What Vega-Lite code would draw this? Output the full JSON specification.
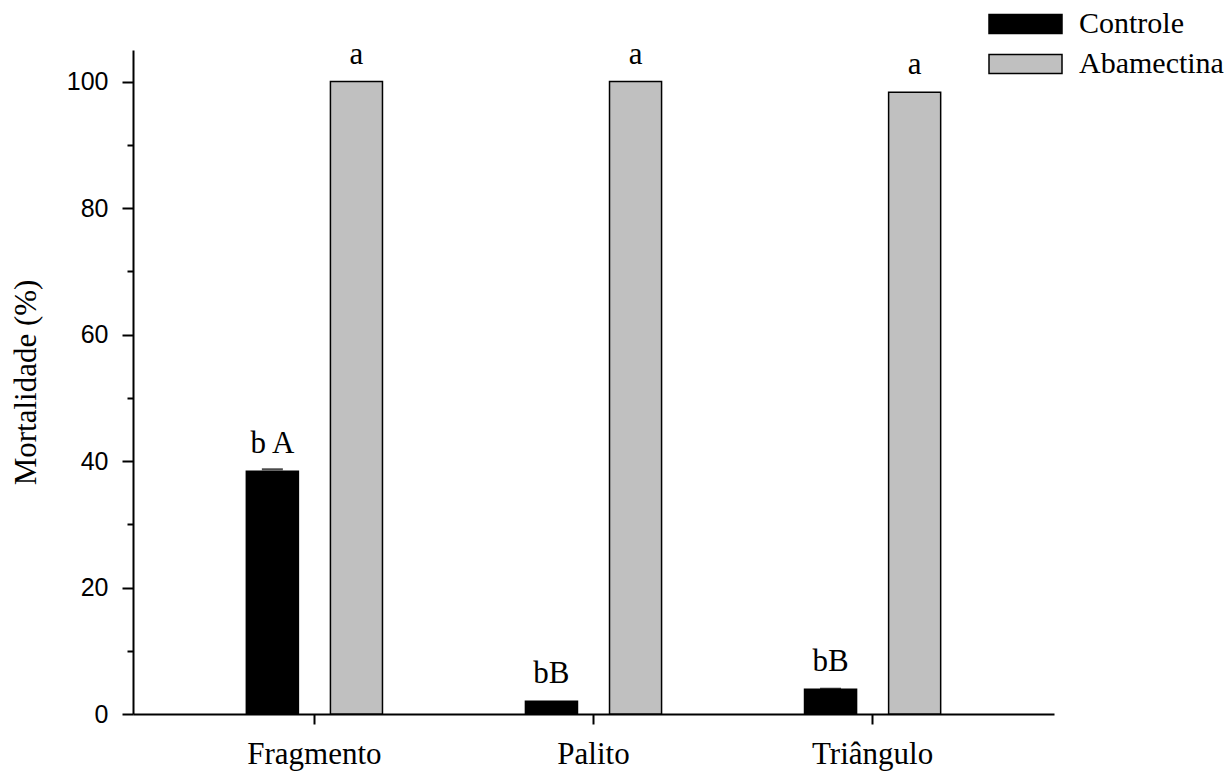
{
  "$schema": "https://vega.github.io/schema/vega-lite/v6.json",
  "width": 921,
  "height": 664,
  "autosize": {"type": "none"},
  "padding": {"left": 133, "top": 50, "right": 177, "bottom": 59},
  "background": "white",
  "config": {"view": {"stroke": null}, "font": "Liberation Serif"},
  "data": {
    "values": [
      {"Substrato": "Fragmento", "Tratamento": "Controle", "Mortalidade": 38.4, "Superior": 38.7, "Letra": "b A"},
      {"Substrato": "Fragmento", "Tratamento": "Abamectina", "Mortalidade": 100, "Superior": null, "Letra": "a"},
      {"Substrato": "Palito", "Tratamento": "Controle", "Mortalidade": 2.0, "Superior": null, "Letra": "bB"},
      {"Substrato": "Palito", "Tratamento": "Abamectina", "Mortalidade": 100, "Superior": null, "Letra": "a"},
      {"Substrato": "Triângulo", "Tratamento": "Controle", "Mortalidade": 3.9, "Superior": 4.0, "Letra": "bB"},
      {"Substrato": "Triângulo", "Tratamento": "Abamectina", "Mortalidade": 98.3, "Superior": null, "Letra": "a"}
    ]
  },
  "encoding": {
    "x": {
      "field": "Substrato",
      "type": "nominal",
      "sort": ["Fragmento", "Palito", "Triângulo"],
      "scale": {"paddingInner": 0, "paddingOuter": 0.15},
      "axis": {
        "title": null,
        "labelAngle": 0,
        "labelFont": "Liberation Serif",
        "labelFontSize": 31,
        "labelColor": "black",
        "tickSize": 10,
        "tickWidth": 2,
        "tickColor": "black",
        "domainColor": "black",
        "domainWidth": 2,
        "labelPadding": 15
      }
    },
    "xOffset": {
      "field": "Tratamento",
      "sort": ["Controle", "Abamectina"],
      "scale": {"paddingInner": 0.381, "paddingOuter": 0.85}
    }
  },
  "layer": [
    {
      "mark": {"type": "bar", "stroke": "black", "strokeWidth": 1.5},
      "encoding": {
        "y": {
          "field": "Mortalidade",
          "type": "quantitative",
          "scale": {"domain": [0, 105], "nice": false},
          "axis": {
            "title": "Mortalidade (%)",
            "values": [0, 5, 10, 15, 20, 25, 30, 35, 40, 45, 50, 55, 60, 65, 70, 75, 80, 85, 90, 95, 100, 105],
            "labelExpr": "datum.value % 20 === 0 ? datum.label : ''",
            "tickSize": {"condition": {"test": "datum.value % 20 === 0", "value": 11}, "value": 6},
            "grid": false,
            "domainColor": "black",
            "domainWidth": 2,
            "tickColor": "black",
            "tickWidth": 2,
            "labelFont": "Liberation Sans",
            "labelFontSize": 25,
            "labelColor": "black",
            "labelPadding": 14,
            "titleFont": "Liberation Serif",
            "titleFontSize": 31,
            "titleFontWeight": "normal",
            "titleColor": "black",
            "titlePadding": 24
          }
        },
        "fill": {
          "field": "Tratamento",
          "type": "nominal",
          "scale": {"domain": ["Controle", "Abamectina"], "range": ["#000000", "#c0c0c0"]},
          "legend": {
            "orient": "none",
            "legendX": 855,
            "legendY": -45,
            "title": null,
            "symbolType": "M-1,-0.26H1V0.26H-1Z",
            "symbolSize": 5329,
            "symbolStrokeColor": "black",
            "symbolStrokeWidth": 1.5,
            "symbolOpacity": 1,
            "clipHeight": 38,
            "labelFont": "Liberation Serif",
            "labelFontSize": 30,
            "labelColor": "black",
            "labelOffset": 16,
            "rowPadding": 2
          }
        }
      }
    },
    {
      "transform": [{"filter": "datum.Superior != null"}],
      "mark": {"type": "tick", "color": "black", "thickness": 2, "size": 21, "orient": "horizontal"},
      "encoding": {
        "y": {"field": "Superior", "type": "quantitative"}
      }
    },
    {
      "mark": {"type": "text", "dy": -18, "fontSize": 31, "font": "Liberation Serif", "baseline": "alphabetic", "color": "black"},
      "encoding": {
        "y": {"field": "Mortalidade", "type": "quantitative"},
        "text": {"field": "Letra"}
      }
    }
  ]
}
